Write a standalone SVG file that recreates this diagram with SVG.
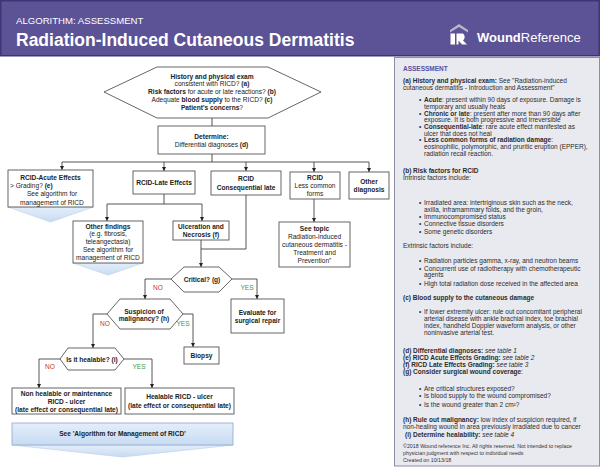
<svg xmlns="http://www.w3.org/2000/svg" width="600" height="467" viewBox="0 0 600 467">
<defs>
<style>
text{font-family:"Liberation Sans",Arial,Helvetica,sans-serif}
.t{font-size:6.6px;fill:#222;text-anchor:middle}
.l{text-anchor:start}
.b{font-weight:bold}
.box{fill:#fff;stroke:#555;stroke-width:0.9}
.ln{fill:none;stroke:#444;stroke-width:0.9}
.no{font-size:6.6px;fill:#c8322d;text-anchor:middle}
.yes{font-size:6.6px;fill:#3e9a3e;text-anchor:middle}
.p{font-size:6.5px;fill:#2c2c2c}
.s{font-size:5.3px;fill:#333}
.i{font-style:italic}
.chev{fill:url(#blue);stroke:#b9cde6;stroke-width:0.6}
</style>
<marker id="ah" markerUnits="userSpaceOnUse" markerWidth="5" markerHeight="5" refX="4.5" refY="2.25" orient="auto"><path d="M0,0 L4.5,2.25 L0,4.5z" fill="#222"/></marker>
<linearGradient id="blue" x1="0" y1="0" x2="0" y2="1"><stop offset="0" stop-color="#e4eefa"/><stop offset="1" stop-color="#c8dbf2"/></linearGradient>
</defs>

<g id="header">
<rect x="0.75" y="0.75" width="598.5" height="55" fill="#5c5296" stroke="#3e3673" stroke-width="1.5"/>
<text x="16" y="24" font-size="9.6" fill="#fff">ALGORITHM: ASSESSMENT</text>
<text x="16" y="46" font-size="17.5" font-weight="bold" fill="#fff">Radiation-Induced Cutaneous Dermatitis</text>
<polygon points="450,30 459,24 468,30 468,32.5 459,27 450,32.5" fill="#b9b6cc"/>
<path d="M450.5,33.5h4.5v11h-4.5z M456.5,33.5h6.5a4.5,4.5 0 0 1 0,7l4,4h-5l-3.5,-4v4h-2z" fill="#fff"/>
<text x="477" y="41.5" font-size="13" fill="#fff"><tspan font-weight="bold">Wound</tspan>Reference</text>
</g>

<g id="panel">
<rect x="394.5" y="57.5" width="205" height="408.5" fill="#e9e9f0" stroke="#8d8da3" stroke-width="1"/>
<text class="p b" x="403" y="71" style="fill:#5a4e9a">ASSESSMENT</text>
<text class="p" x="403" y="83"><tspan class="b">(a) History and physical exam:</tspan> See "Radiation-induced</text>
<text class="p" x="403" y="89.6">cutaneous dermatitis - Introduction and Assessment"</text>
<text class="p" x="419" y="102.2">•</text><text class="p" x="424" y="102.2"><tspan class="b">Acute</tspan>: present within 90 days of exposure. Damage is</text>
<text class="p" x="424" y="108.8">temporary and usually heals</text>
<text class="p" x="419" y="115.5">•</text><text class="p" x="424" y="115.5"><tspan class="b">Chronic or late</tspan>: present after more than 90 days after</text>
<text class="p" x="424" y="122.1">exposure. It is both progressive and irreversible</text>
<text class="p" x="419" y="128.9">•</text><text class="p" x="424" y="128.9"><tspan class="b">Consequential-late</tspan>: rare acute effect manifested as</text>
<text class="p" x="424" y="135.6">ulcer that does not heal</text>
<text class="p" x="419" y="142.4">•</text><text class="p" x="424" y="142.4"><tspan class="b">Less common forms of radiation damage</tspan>:</text>
<text class="p" x="424" y="149.1">eosinophilic, polymorphic, and pruritic eruption (EPPER),</text>
<text class="p" x="424" y="155.8">radiation recall reaction.</text>
<text class="p b" x="403" y="173">(b) Risk factors for RCID</text>
<text class="p" x="403" y="180">Intrinsic factors include:</text>
<text class="p" x="419" y="205">•</text><text class="p" x="424" y="205">Irradiated area: intertriginous skin such as the neck,</text>
<text class="p" x="424" y="211.6">axilla, inframammary folds, and the groin,</text>
<text class="p" x="419" y="218.6">•</text><text class="p" x="424" y="218.6">Immunocompromised status</text>
<text class="p" x="419" y="226">•</text><text class="p" x="424" y="226">Connective tissue disorders</text>
<text class="p" x="419" y="233.5">•</text><text class="p" x="424" y="233.5">Some genetic disorders</text>
<text class="p" x="403" y="248">Extrinsic factors include:</text>
<text class="p" x="419" y="263">•</text><text class="p" x="424" y="263">Radiation particles gamma, x-ray, and neutron beams</text>
<text class="p" x="419" y="270.6">•</text><text class="p" x="424" y="270.6">Concurrent use of radiotherapy with chemotherapeutic</text>
<text class="p" x="424" y="277.4">agents</text>
<text class="p" x="419" y="285.5">•</text><text class="p" x="424" y="285.5">High total radiation dose received in the affected area</text>
<text class="p b" x="403" y="300">(c) Blood supply to the cutaneous damage</text>
<text class="p" x="419" y="314">•</text><text class="p" x="424" y="314">If lower extremity ulcer: rule out concomitant peripheral</text>
<text class="p" x="424" y="321">arterial disease with ankle brachial index, toe brachial</text>
<text class="p" x="424" y="328">index, handheld Doppler waveform analysis, or other</text>
<text class="p" x="424" y="335">noninvasive arterial test.</text>
<text class="p" x="403" y="352.5"><tspan class="b">(d) Differential diagnoses:</tspan> <tspan class="i">see table 1</tspan></text>
<text class="p" x="403" y="359.5"><tspan class="b">(e) RICD Acute Effects Grading:</tspan> <tspan class="i">see table 2</tspan></text>
<text class="p" x="403" y="366.5"><tspan class="b">(f) RICD Late Effects Grading:</tspan> <tspan class="i">see table 3</tspan></text>
<text class="p" x="403" y="373.5"><tspan class="b">(g) Consider surgical wound coverage</tspan>:</text>
<text class="p" x="419" y="390.5">•</text><text class="p" x="424" y="390.5">Are critical structures exposed?</text>
<text class="p" x="419" y="398">•</text><text class="p" x="424" y="398">Is blood supply to the wound compromised?</text>
<text class="p" x="419" y="407">•</text><text class="p" x="424" y="407">Is the wound greater than 2 cm²?</text>
<text class="p" x="403" y="421.5"><tspan class="b">(h) Rule out malignancy:</tspan> low index of suspicion required, if</text>
<text class="p" x="403" y="429">non-healing wound in area previously irradiated due to cancer</text>
<text class="p" x="405" y="436.5"><tspan class="b">(i)  Determine healability:</tspan> <tspan class="i">see table 4</tspan></text>
<text class="s" x="403" y="448">©2018 Wound reference Inc. All rights reserved. Not intended to replace</text>
<text class="s" x="403" y="455">physician judgment with respect to individual needs</text>
<text class="s" x="403" y="461.5">Created on 10/13/18</text>
</g>

<g id="connectors">
<path class="ln" d="M212,118V126"/>
<path class="ln" d="M212,154V162M62,162H369"/>
<path class="ln" d="M62,162V170" marker-end="url(#ah)"/>
<path class="ln" d="M164,162V171" marker-end="url(#ah)"/>
<path class="ln" d="M246,162V171" marker-end="url(#ah)"/>
<path class="ln" d="M314,162V172" marker-end="url(#ah)"/>
<path class="ln" d="M369,162V172" marker-end="url(#ah)"/>
<path class="ln" d="M164,194V204M107,204H202"/>
<path class="ln" d="M107,204V221" marker-end="url(#ah)"/>
<path class="ln" d="M202,204V221" marker-end="url(#ah)"/>
<path class="ln" d="M314,199V222" marker-end="url(#ah)"/>
<path class="ln" d="M246,195V249H201"/>
<path class="ln" d="M201,240V267" marker-end="url(#ah)"/>
<path class="ln" d="M171,279H145V299" marker-end="url(#ah)"/>
<path class="ln" d="M232,279H257V299" marker-end="url(#ah)"/>
<path class="ln" d="M107,314H93V348" marker-end="url(#ah)"/>
<path class="ln" d="M183,314H193V347" marker-end="url(#ah)"/>
<path class="ln" d="M60,359H39V388" marker-end="url(#ah)"/>
<path class="ln" d="M124,359H152V388" marker-end="url(#ah)"/>
<text class="no" x="158" y="290">NO</text>
<text class="yes" x="247" y="289.5">YES</text>
<text class="no" x="105" y="325.5">NO</text>
<text class="yes" x="183" y="325.5">YES</text>
<text class="no" x="50" y="368.5">NO</text>
<text class="yes" x="139" y="368.5">YES</text>
</g>

<g id="n-history">
<polygon class="box" points="104,92 157,67 268,67 321,92 268,118 157,118"/>
<text class="t b" x="212" y="78.5">History and physical exam</text>
<text class="t" x="212" y="86.3">consistent with RICD? <tspan class="b">(a)</tspan></text>
<text class="t" x="212" y="94.1"><tspan class="b">Risk factors</tspan> for acute or late reactions? <tspan class="b">(b)</tspan></text>
<text class="t" x="212" y="101.9">Adequate <tspan class="b">blood supply</tspan> to the RICD? <tspan class="b">(c)</tspan></text>
<text class="t" x="212" y="109.7"><tspan class="b">Patient's concerns</tspan>?</text>
</g>

<g id="n-determine">
<rect class="box" x="158" y="126" width="107" height="28"/>
<text class="t b" x="211.5" y="139.3">Determine:</text>
<text class="t" x="211.5" y="147.3">Differential diagnoses <tspan class="b">(d)</tspan></text>
</g>

<g id="n-acute">
<polygon class="chev" points="8,207 93,207 50.5,222"/>
<rect class="box" x="8" y="170" width="85" height="37"/>
<text class="t b" x="50.5" y="179.6">RCID-Acute Effects</text>
<text class="t l" x="10" y="188">&gt; Grading? <tspan class="b">(e)</tspan></text>
<text class="t" x="52" y="196.3">See algorithm for</text>
<text class="t" x="52" y="204.6">management of RICD</text>
</g>

<g id="n-late">
<rect class="box" x="133" y="171" width="62" height="23"/>
<text class="t b" x="164" y="184.5">RCID-Late Effects</text>
</g>

<g id="n-consequential">
<rect class="box" x="211" y="171" width="70" height="24"/>
<text class="t b" x="246" y="181.3">RCID</text>
<text class="t b" x="246" y="190.3">Consequential late</text>
</g>

<g id="n-lesscommon">
<rect class="box" x="290" y="172" width="50" height="27"/>
<text class="t b" x="315" y="179.5">RCID</text>
<text class="t" x="315" y="188">Less common</text>
<text class="t" x="315" y="196.3">forms</text>
</g>

<g id="n-other">
<rect class="box" x="349" y="172" width="40" height="27"/>
<text class="t b" x="369" y="184.3">Other</text>
<text class="t b" x="369" y="191.6">diagnosis</text>
</g>

<g id="n-otherfindings">
<polygon class="chev" points="73,263 143,263 108,275"/>
<rect class="box" x="73" y="221" width="70" height="42"/>
<text class="t b" x="108" y="228.5">Other findings</text>
<text class="t" x="108" y="236.3">(e.g. fibrosis,</text>
<text class="t" x="108" y="244.1">teleangectasia)</text>
<text class="t" x="108" y="251.9">See algorithm for</text>
<text class="t" x="108" y="259.7">management of RICD</text>
</g>

<g id="n-ulceration">
<rect class="box" x="173" y="221" width="56" height="19"/>
<text class="t b" x="201" y="229.3">Ulceration and</text>
<text class="t b" x="201" y="237.3">Necrosis (f)</text>
</g>

<g id="n-seetopic">
<rect class="box" x="279" y="222" width="71" height="45"/>
<text class="t b" x="314.5" y="231.3">See topic</text>
<text class="t" x="314.5" y="239.1">Radiation-induced</text>
<text class="t" x="314.5" y="246.9">cutaneous dermatitis -</text>
<text class="t" x="314.5" y="254.7">Treatment and</text>
<text class="t" x="314.5" y="262.5">Prevention"</text>
</g>

<g id="n-critical">
<polygon class="box" points="171,279 184,267 219,267 232,279 219,292 184,292"/>
<text class="t b" x="202" y="281.5">Critical? (g)</text>
</g>

<g id="n-evaluate">
<rect class="box" x="231" y="299" width="53" height="34"/>
<text class="t b" x="257.5" y="315.3">Evaluate for</text>
<text class="t b" x="257.5" y="323.1">surgical repair</text>
</g>

<g id="n-suspicion">
<polygon class="box" points="107,314 120,299 170,299 183,314 170,329 120,329"/>
<text class="t b" x="144" y="313.8">Suspicion of</text>
<text class="t b" x="144" y="321.4">malignancy? (h)</text>
</g>

<g id="n-biopsy">
<rect class="box" x="184" y="347" width="35" height="17"/>
<text class="t b" x="201.5" y="358.3">Biopsy</text>
</g>

<g id="n-healable">
<polygon class="box" points="60,359 68,348 115,348 124,359 115,370 68,370"/>
<text class="t b" x="92" y="361.5">Is it healable? (i)</text>
</g>

<g id="n-nonhealable">
<rect class="box" x="12" y="388" width="109" height="26"/>
<text class="t b" x="66.5" y="396.3">Non healable or maintenance</text>
<text class="t b" x="66.5" y="403.9">RICD - ulcer</text>
<text class="t b" x="66.5" y="411.5">(late effect or consequential late)</text>
</g>

<g id="n-healableulcer">
<rect class="box" x="125" y="388" width="109" height="26"/>
<text class="t b" x="179.5" y="399.3">Healable RICD - ulcer</text>
<text class="t b" x="179.5" y="407.5">(late effect or consequential late)</text>
</g>

<g id="n-management">
<polygon class="chev" points="12,445 233,445 122.5,457"/>
<rect x="12" y="423" width="221" height="22" fill="url(#blue)" stroke="#8fa8c8" stroke-width="0.8"/>
<text class="t b" x="122.5" y="436.3">See 'Algorithm for Management of RICD'</text>
</g>
</svg>
